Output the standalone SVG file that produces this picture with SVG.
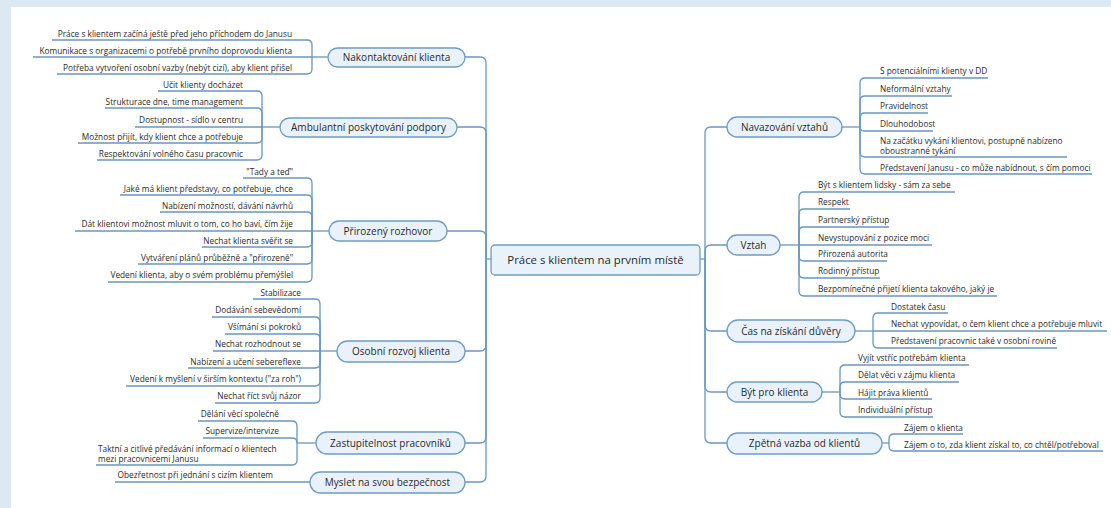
<svg xmlns="http://www.w3.org/2000/svg" width="1111" height="508" viewBox="0 0 1111 508">
<style>
.bg{fill:#dce8f2}
.pn{fill:#ffffff}
.ln{fill:none;stroke:#6a97be;stroke-width:1.3}
.nd{fill:#e9f2fa;stroke:#6f9cc3;stroke-width:1.3}
.lf{font-family:"Open Sans","Liberation Sans",sans-serif;font-size:8.3px;fill:#2a2a2a}
.le{text-anchor:end}
.bt{font-family:"Open Sans","Liberation Sans",sans-serif;font-size:10px;fill:#2a2a2a;text-anchor:middle}
.ct{font-family:"Open Sans","Liberation Sans",sans-serif;font-size:11.4px;fill:#2a2a2a;text-anchor:middle}
</style>
<rect class="bg" x="0" y="0" width="1111" height="508"/>
<rect class="pn" x="11" y="7" width="1100" height="501"/>
<g id="connectors">
<path class="ln" d="M491,259 H486"/>
<path class="ln" d="M465,57 H480 Q486,57 486,63 V259"/>
<path class="ln" d="M457,127 H480 Q486,127 486,133 V259"/>
<path class="ln" d="M447,231 H480 Q486,231 486,237 V259"/>
<path class="ln" d="M465,351 H480 Q486,351 486,345 V259"/>
<path class="ln" d="M465,443 H480 Q486,443 486,437 V259"/>
<path class="ln" d="M465,482 H480 Q486,482 486,476 V259"/>
<path class="ln" d="M700,259 H705"/>
<path class="ln" d="M705,259 V133 Q705,127 711,127 H727"/>
<path class="ln" d="M705,259 V251 Q705,245 711,245 H727"/>
<path class="ln" d="M705,259 V325 Q705,331 711,331 H727"/>
<path class="ln" d="M705,259 V386 Q705,392 711,392 H727"/>
<path class="ln" d="M705,259 V437 Q705,443 711,443 H727"/>
<path class="ln" d="M312,57 H328"/>
<path class="ln" d="M52,40 H307 Q312,40 312,45 V57"/>
<path class="ln" d="M33,57 H312"/>
<path class="ln" d="M57,74 H307 Q312,74 312,69 V57"/>
<path class="ln" d="M262,127 H280"/>
<path class="ln" d="M158,91 H257 Q262,91 262,96 V127"/>
<path class="ln" d="M105,108 H257 Q262,108 262,113 V127"/>
<path class="ln" d="M135,127 H262"/>
<path class="ln" d="M78,143 H257 Q262,143 262,138 V127"/>
<path class="ln" d="M97,160 H257 Q262,160 262,155 V127"/>
<path class="ln" d="M312,231 H329"/>
<path class="ln" d="M243,178 H307 Q312,178 312,183 V231"/>
<path class="ln" d="M120,195 H307 Q312,195 312,200 V231"/>
<path class="ln" d="M160,212 H307 Q312,212 312,217 V231"/>
<path class="ln" d="M75,231 H312"/>
<path class="ln" d="M202,247 H307 Q312,247 312,242 V231"/>
<path class="ln" d="M138,264 H307 Q312,264 312,259 V231"/>
<path class="ln" d="M108,282 H307 Q312,282 312,277 V231"/>
<path class="ln" d="M320,351 H337"/>
<path class="ln" d="M253,299 H315 Q320,299 320,304 V351"/>
<path class="ln" d="M212,317 H315 Q320,317 320,322 V351"/>
<path class="ln" d="M225,334 H315 Q320,334 320,339 V351"/>
<path class="ln" d="M213,351 H320"/>
<path class="ln" d="M188,368 H315 Q320,368 320,363 V351"/>
<path class="ln" d="M126,386 H315 Q320,386 320,381 V351"/>
<path class="ln" d="M215,403 H315 Q320,403 320,398 V351"/>
<path class="ln" d="M297,443 H316"/>
<path class="ln" d="M198,421 H292 Q297,421 297,426 V443"/>
<path class="ln" d="M203,438 H292 Q297,438 297,443"/>
<path class="ln" d="M96,465 H292 Q297,465 297,460 V443"/>
<path class="ln" d="M115,482 H310"/>
<path class="ln" d="M842,127 H860"/>
<path class="ln" d="M860,127 V83 Q860,78 865,78 H988"/>
<path class="ln" d="M860,127 V101 Q860,96 865,96 H952"/>
<path class="ln" d="M860,127 V118 Q860,113 865,113 H928"/>
<path class="ln" d="M860,127 Q860,131 864,131 H933"/>
<path class="ln" d="M860,127 V152 Q860,157 865,157 H1067"/>
<path class="ln" d="M860,127 V169 Q860,174 865,174 H1092"/>
<path class="ln" d="M780,245 H799"/>
<path class="ln" d="M799,245 V197 Q799,192 804,192 H955"/>
<path class="ln" d="M799,245 V214 Q799,209 804,209 H850"/>
<path class="ln" d="M799,245 V232 Q799,227 804,227 H889"/>
<path class="ln" d="M799,245 H932"/>
<path class="ln" d="M799,245 V256 Q799,261 804,261 H887"/>
<path class="ln" d="M799,245 V273 Q799,278 804,278 H880"/>
<path class="ln" d="M799,245 V291 Q799,296 804,296 H997"/>
<path class="ln" d="M855,331 H873"/>
<path class="ln" d="M873,331 V318 Q873,313 878,313 H948"/>
<path class="ln" d="M873,331 H1107"/>
<path class="ln" d="M873,331 V343 Q873,348 878,348 H1057"/>
<path class="ln" d="M822,392 H840"/>
<path class="ln" d="M840,392 V370 Q840,365 845,365 H969"/>
<path class="ln" d="M840,392 V387 Q840,382 845,382 H959"/>
<path class="ln" d="M840,392 V394 Q840,399 845,399 H932"/>
<path class="ln" d="M840,392 V412 Q840,417 845,417 H933"/>
<path class="ln" d="M882,443 H889"/>
<path class="ln" d="M889,443 V439 Q889,434 894,434 H963"/>
<path class="ln" d="M889,443 V446 Q889,451 894,451 H1103"/>
</g>

<g id="center"><rect class="nd" x="491" y="245" width="209" height="30" rx="4"/><text class="ct" x="595.5" y="264">Práce s klientem na prvním místě</text></g>

<g id="n-nakontaktovani"><rect class="nd" x="328" y="48" width="137" height="19" rx="9.5"/><text class="bt" x="396.5" y="61">Nakontaktování klienta</text></g>
<g id="n-ambulantni"><rect class="nd" x="280" y="118" width="177" height="19" rx="9.5"/><text class="bt" x="368.5" y="131">Ambulantní poskytování podpory</text></g>
<g id="n-prirozeny"><rect class="nd" x="329" y="221" width="118" height="20" rx="10"/><text class="bt" x="388" y="234.5">Přirozený rozhovor</text></g>
<g id="n-osobni"><rect class="nd" x="337" y="341" width="128" height="21" rx="10.5"/><text class="bt" x="401" y="355">Osobní rozvoj klienta</text></g>
<g id="n-zastupitelnost"><rect class="nd" x="316" y="432" width="149" height="22" rx="11"/><text class="bt" x="390.5" y="446.5">Zastupitelnost pracovníků</text></g>
<g id="n-myslet"><rect class="nd" x="310" y="472" width="155" height="21" rx="10.5"/><text class="bt" x="387.5" y="486">Myslet na svou bezpečnost</text></g>

<g id="n-navazovani"><rect class="nd" x="727" y="117" width="115" height="20" rx="10"/><text class="bt" x="784.5" y="130.5">Navazování vztahů</text></g>
<g id="n-vztah"><rect class="nd" x="727" y="235" width="53" height="20" rx="10"/><text class="bt" x="753.5" y="248.5">Vztah</text></g>
<g id="n-cas"><rect class="nd" x="727" y="320" width="128" height="22" rx="11"/><text class="bt" x="791" y="334.5">Čas na získání důvěry</text></g>
<g id="n-byt"><rect class="nd" x="727" y="382" width="95" height="20" rx="10"/><text class="bt" x="774.5" y="395.5">Být pro klienta</text></g>
<g id="n-zpetna"><rect class="nd" x="727" y="433" width="155" height="21" rx="10.5"/><text class="bt" x="804.5" y="447">Zpětná vazba od klientů</text></g>

<g id="leaves-nakontaktovani">
<text class="lf le" x="292" y="36.5">Práce s klientem začíná ještě před jeho příchodem do Janusu</text>
<text class="lf le" x="292" y="53.5">Komunikace s organizacemi o potřebě prvního doprovodu klienta</text>
<text class="lf le" x="292" y="70.5">Potřeba vytvoření osobní vazby (nebýt cizí), aby klient přišel</text>
</g>
<g id="leaves-ambulantni">
<text class="lf le" x="243" y="87.5">Učit klienty docházet</text>
<text class="lf le" x="243" y="104.5">Strukturace dne, time management</text>
<text class="lf le" x="243" y="123">Dostupnost - sídlo v centru</text>
<text class="lf le" x="243" y="139.5">Možnost přijít, kdy klient chce a potřebuje</text>
<text class="lf le" x="243" y="156.5">Respektování volného času pracovnic</text>
</g>
<g id="leaves-prirozeny">
<text class="lf le" x="293" y="174.5">"Tady a teď"</text>
<text class="lf le" x="293" y="191.5">Jaké má klient představy, co potřebuje, chce</text>
<text class="lf le" x="293" y="208.5">Nabízení možností, dávání návrhů</text>
<text class="lf le" x="293" y="227">Dát klientovi možnost mluvit o tom, co ho baví, čím žije</text>
<text class="lf le" x="293" y="243.5">Nechat klienta svěřit se</text>
<text class="lf le" x="293" y="260.5">Vytváření plánů průběžně a "přirozeně"</text>
<text class="lf le" x="293" y="278">Vedení klienta, aby o svém problému přemýšlel</text>
</g>
<g id="leaves-osobni">
<text class="lf le" x="301" y="295.5">Stabilizace</text>
<text class="lf le" x="301" y="313">Dodávání sebevědomí</text>
<text class="lf le" x="301" y="330">Všímání si pokroků</text>
<text class="lf le" x="301" y="347">Nechat rozhodnout se</text>
<text class="lf le" x="301" y="364.5">Nabízení a učení sebereflexe</text>
<text class="lf le" x="301" y="382">Vedení k myšlení v širším kontextu ("za roh")</text>
<text class="lf le" x="301" y="399">Nechat říct svůj názor</text>
</g>
<g id="leaves-zastupitelnost">
<text class="lf le" x="279" y="417">Dělání věcí společně</text>
<text class="lf le" x="279" y="434">Supervize/intervize</text>
<text class="lf" x="98" y="451.5">Taktní a citlivé předávání informací o klientech</text>
<text class="lf" x="98" y="461.5">mezi pracovnicemi Janusu</text>
</g>
<g id="leaves-myslet">
<text class="lf le" x="273" y="478">Obezřetnost při jednání s cizím klientem</text>
</g>

<g id="leaves-navazovani">
<text class="lf" x="880" y="74">S potenciálními klienty v DD</text>
<text class="lf" x="880" y="92">Neformální vztahy</text>
<text class="lf" x="880" y="109">Pravidelnost</text>
<text class="lf" x="880" y="127">Dlouhodobost</text>
<text class="lf" x="880" y="144">Na začátku vykání klientovi, postupně nabízeno</text>
<text class="lf" x="880" y="153.5">oboustranné tykání</text>
<text class="lf" x="880" y="170.5">Představení Janusu - co může nabídnout, s čím pomoci</text>
</g>
<g id="leaves-vztah">
<text class="lf" x="818" y="188">Být s klientem lidsky - sám za sebe</text>
<text class="lf" x="818" y="205">Respekt</text>
<text class="lf" x="818" y="223">Partnerský přístup</text>
<text class="lf" x="818" y="241">Nevystupování z pozice moci</text>
<text class="lf" x="818" y="257">Přirozená autorita</text>
<text class="lf" x="818" y="274">Rodinný přístup</text>
<text class="lf" x="818" y="292">Bezpomínečné přijetí klienta takového, jaký je</text>
</g>
<g id="leaves-cas">
<text class="lf" x="891" y="309.5">Dostatek času</text>
<text class="lf" x="891" y="327">Nechat vypovídat, o čem klient chce a potřebuje mluvit</text>
<text class="lf" x="891" y="344">Představení pracovnic také v osobní rovině</text>
</g>
<g id="leaves-byt">
<text class="lf" x="858" y="361">Vyjít vstříc potřebám klienta</text>
<text class="lf" x="858" y="378">Dělat věci v zájmu klienta</text>
<text class="lf" x="858" y="395.5">Hájit práva klientů</text>
<text class="lf" x="858" y="413">Individuální přístup</text>
</g>
<g id="leaves-zpetna">
<text class="lf" x="904" y="430.5">Zájem o klienta</text>
<text class="lf" x="904" y="447.5">Zájem o to, zda klient získal to, co chtěl/potřeboval</text>
</g>
</svg>
